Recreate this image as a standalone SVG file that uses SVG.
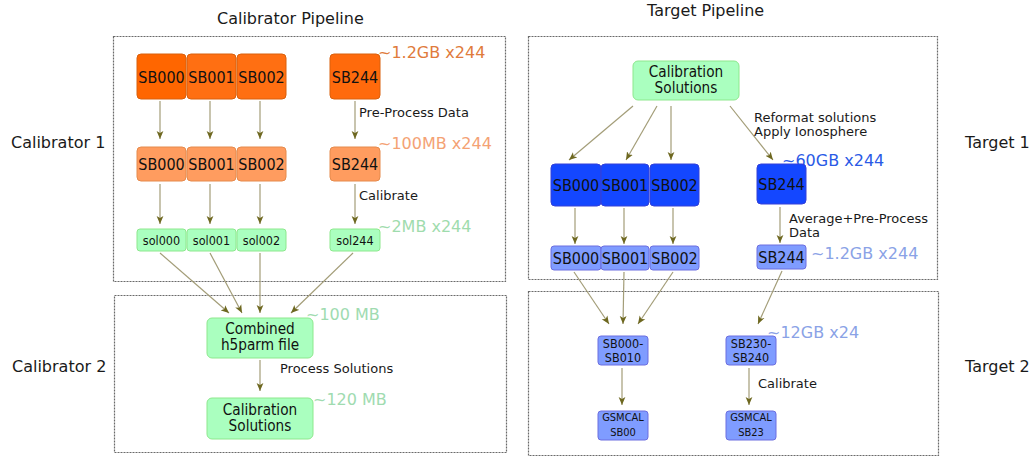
<svg xmlns="http://www.w3.org/2000/svg" width="1033" height="457" viewBox="0 0 1033 457">
<style>
.bg{fill:#fff}
.frame{fill:none;stroke:#6a6a6a;stroke-width:1.2;stroke-dasharray:2,1}
.t{font-family:"DejaVu Sans","Liberation Sans",sans-serif;fill:#1a1a1a}
.title{font-size:16px}
.ann{font-size:13px}
.size{font-size:16px}
.n{font-family:"DejaVu Sans Condensed","DejaVu Sans","Liberation Sans Narrow",sans-serif;font-stretch:condensed;fill:#111;text-anchor:middle}
.n16{font-size:16px}
.n15{font-size:15.2px}
.n125{font-size:12.5px}
.n11{font-size:11px}
.o1{fill:#ff6f12;stroke:#d9600c;stroke-width:1}
.o2{fill:#ff9c5f;stroke:#e58a4c;stroke-width:1}
.g{fill:#aaffbf;stroke:#8de88d;stroke-width:1}
.b1{fill:#1447ff;stroke:#3440d8;stroke-width:1}
.b2{fill:#7f9cff;stroke:#6c6ee0;stroke-width:1}
.c{fill:none;stroke:#a39d78;stroke-width:1.2;marker-end:url(#ah)}
</style>
<defs>
<marker id="ah" markerUnits="userSpaceOnUse" viewBox="0 0 8 8" refX="8" refY="4" markerWidth="8" markerHeight="8" orient="auto">
<path d="M0,0.6 L8,4 L0,7.4 L2,4 Z" fill="#6e6820"/>
</marker>
</defs>
<rect class="bg" x="0" y="0" width="1033" height="457"/>

<g id="frames">
<rect class="frame" x="113.5" y="36.5" width="392" height="245"/>
<rect class="frame" x="114.5" y="295.5" width="392" height="157"/>
<rect class="frame" x="528.5" y="36.5" width="409" height="243"/>
<rect class="frame" x="528.5" y="291.5" width="410" height="164"/>
</g>

<g id="titles">
<text class="t title" x="217" y="24">Calibrator Pipeline</text>
<text class="t title" x="647" y="16">Target Pipeline</text>
<text class="t title" x="11" y="148">Calibrator 1</text>
<text class="t title" x="12" y="372">Calibrator 2</text>
<text class="t title" x="965" y="148">Target 1</text>
<text class="t title" x="965" y="372">Target 2</text>
</g>

<g id="connectors">
<path class="c" d="M160,101 V139"/>
<path class="c" d="M210,101 V139"/>
<path class="c" d="M260,101 V139"/>
<path class="c" d="M355,101 V139"/>
<path class="c" d="M160,184 V224"/>
<path class="c" d="M210,184 V224"/>
<path class="c" d="M260,184 V224"/>
<path class="c" d="M355,184 V224"/>
<path class="c" d="M160,253 L229,313"/>
<path class="c" d="M210,253 L242,313"/>
<path class="c" d="M260,253 V313"/>
<path class="c" d="M353,253 L291,313"/>
<path class="c" d="M260,360 V391"/>
<path class="c" d="M633,106 L569,160"/>
<path class="c" d="M657,106 L626,160"/>
<path class="c" d="M671,106 V160"/>
<path class="c" d="M730,106 L773,160"/>
<path class="c" d="M575,208 V244"/>
<path class="c" d="M624,208 V244"/>
<path class="c" d="M673,208 V244"/>
<path class="c" d="M780,207 V243"/>
<path class="c" d="M574,272 L609,324"/>
<path class="c" d="M624,272 L623,324"/>
<path class="c" d="M673,272 L638,324"/>
<path class="c" d="M782,271 L758,324"/>
<path class="c" d="M622,368 V405"/>
<path class="c" d="M749,368 V405"/>
</g>

<g id="labels">
<text class="t ann" x="359" y="117">Pre-Process Data</text>
<text class="t ann" x="359" y="200">Calibrate</text>
<text class="t ann" x="280" y="373">Process Solutions</text>
<text class="t ann" x="754" y="122">Reformat solutions<tspan x="754" dy="14">Apply Ionosphere</tspan></text>
<text class="t ann" x="789" y="223">Average+Pre-Process<tspan x="789" dy="14">Data</tspan></text>
<text class="t ann" x="758" y="388">Calibrate</text>
<text class="t size" x="378" y="58" style="fill:#e07b3c">~1.2GB x244</text>
<text class="t size" x="378" y="149" style="fill:#f4a274">~100MB x244</text>
<text class="t size" x="378" y="232" style="fill:#9fdcad">~2MB x244</text>
<text class="t size" x="306" y="320" style="fill:#a0dbb0">~100 MB</text>
<text class="t size" x="313" y="405" style="fill:#a0dbb0">~120 MB</text>
<text class="t size" x="782" y="166" style="fill:#2a5ae6">~60GB x244</text>
<text class="t size" x="811" y="259" style="fill:#8aa2e6">~1.2GB x244</text>
<text class="t size" x="767" y="338" style="fill:#8aa2e6">~12GB x24</text>
</g>

<g id="cal-sb000-raw"><rect class="o1" x="137" y="54" width="49" height="45" rx="4" style="fill:#ff6600"/><text class="n n16" x="161.5" y="82.5">SB000</text></g>
<g id="cal-sb001-raw"><rect class="o1" x="187" y="54" width="49" height="45" rx="4"/><text class="n n16" x="211.5" y="82.5">SB001</text></g>
<g id="cal-sb002-raw"><rect class="o1" x="237" y="54" width="49" height="45" rx="4"/><text class="n n16" x="261.5" y="82.5">SB002</text></g>
<g id="cal-sb244-raw"><rect class="o1" x="330" y="54" width="50" height="45" rx="4" style="fill:#ff6a0c"/><text class="n n16" x="355" y="82.5">SB244</text></g>

<g id="cal-sb000-pre"><rect class="o2" x="137" y="147" width="49" height="34" rx="4"/><text class="n n16" x="161.5" y="170">SB000</text></g>
<g id="cal-sb001-pre"><rect class="o2" x="187" y="147" width="49" height="34" rx="4"/><text class="n n16" x="211.5" y="170">SB001</text></g>
<g id="cal-sb002-pre"><rect class="o2" x="237" y="147" width="49" height="34" rx="4"/><text class="n n16" x="261.5" y="170">SB002</text></g>
<g id="cal-sb244-pre"><rect class="o2" x="330" y="147" width="50" height="34" rx="4"/><text class="n n16" x="355" y="170">SB244</text></g>

<g id="sol000"><rect class="g" x="137" y="229" width="49" height="22" rx="3"/><text class="n n125" x="161.5" y="244.5">sol000</text></g>
<g id="sol001"><rect class="g" x="187" y="229" width="49" height="22" rx="3"/><text class="n n125" x="211.5" y="244.5">sol001</text></g>
<g id="sol002"><rect class="g" x="237" y="229" width="49" height="22" rx="3"/><text class="n n125" x="261.5" y="244.5">sol002</text></g>
<g id="sol244"><rect class="g" x="330" y="229" width="50" height="22" rx="3"/><text class="n n125" x="355" y="244.5">sol244</text></g>

<g id="combined"><rect class="g" x="207" y="318" width="106" height="40" rx="5"/><text class="n n15" x="260" y="334">Combined<tspan x="260" dy="15.5">h5parm file</tspan></text></g>
<g id="cal-solutions"><rect class="g" x="207" y="398" width="106" height="41" rx="5"/><text class="n n15" x="260" y="415">Calibration<tspan x="260" dy="15.5">Solutions</tspan></text></g>

<g id="tgt-cal-solutions"><rect class="g" x="633" y="61" width="106" height="39" rx="5"/><text class="n n15" x="686" y="77">Calibration<tspan x="686" dy="15.5">Solutions</tspan></text></g>

<g id="tgt-sb000-raw"><rect class="b1" x="551" y="164" width="50" height="42" rx="4"/><text class="n n16" x="576" y="191">SB000</text></g>
<g id="tgt-sb001-raw"><rect class="b1" x="601" y="164" width="48" height="42" rx="4"/><text class="n n16" x="625" y="191">SB001</text></g>
<g id="tgt-sb002-raw"><rect class="b1" x="650" y="164" width="49" height="42" rx="4"/><text class="n n16" x="674.5" y="191">SB002</text></g>
<g id="tgt-sb244-raw"><rect class="b1" x="757" y="164" width="49" height="40" rx="4"/><text class="n n16" x="781.5" y="190">SB244</text></g>

<g id="tgt-sb000-pre"><rect class="b2" x="551" y="246" width="50" height="24" rx="3"/><text class="n n16" x="576" y="264">SB000</text></g>
<g id="tgt-sb001-pre"><rect class="b2" x="601" y="246" width="48" height="24" rx="3"/><text class="n n16" x="625" y="264">SB001</text></g>
<g id="tgt-sb002-pre"><rect class="b2" x="650" y="246" width="49" height="24" rx="3"/><text class="n n16" x="674.5" y="264">SB002</text></g>
<g id="tgt-sb244-pre"><rect class="b2" x="757" y="245" width="49" height="24" rx="3"/><text class="n n16" x="781.5" y="263">SB244</text></g>

<g id="tgt-sb000-010"><rect class="b2" x="598" y="336" width="50" height="29" rx="3"/><text class="n n125" x="623" y="348">SB000-<tspan x="623" dy="14">SB010</tspan></text></g>
<g id="tgt-sb230-240"><rect class="b2" x="726" y="336" width="50" height="29" rx="3"/><text class="n n125" x="751" y="348">SB230-<tspan x="751" dy="14">SB240</tspan></text></g>
<g id="gsmcal-sb00"><rect class="b2" x="598" y="411" width="50" height="29" rx="3"/><text class="n n11" x="623" y="421">GSMCAL<tspan x="623" dy="15">SB00</tspan></text></g>
<g id="gsmcal-sb23"><rect class="b2" x="726" y="411" width="50" height="29" rx="3"/><text class="n n11" x="751" y="421">GSMCAL<tspan x="751" dy="15">SB23</tspan></text></g>
</svg>
